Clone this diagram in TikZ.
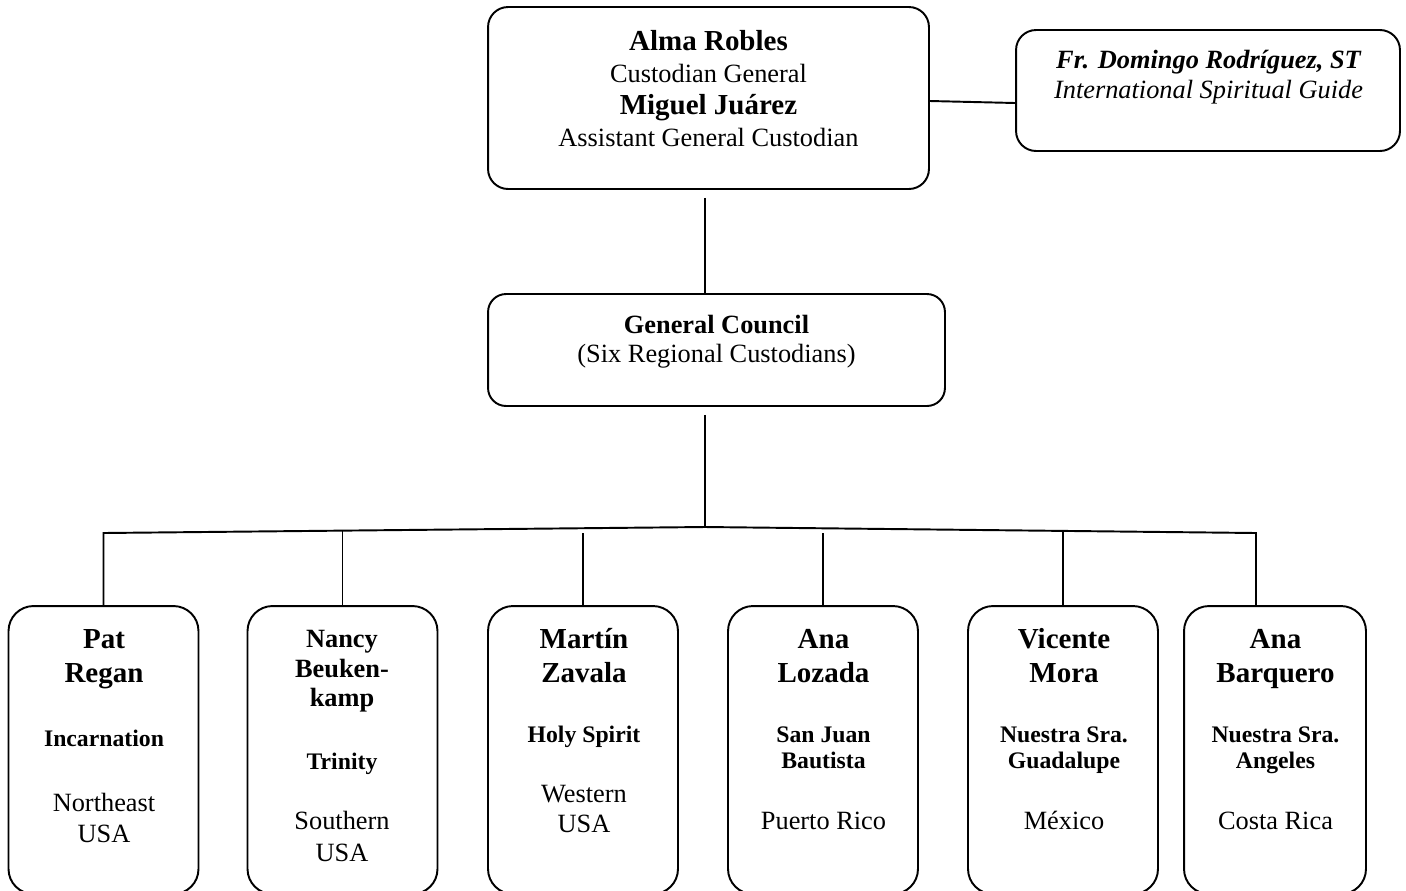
\documentclass[tikz,border=0pt]{standalone}
\usepackage{fontspec}
\setmainfont{Liberation Serif}
\usetikzlibrary{positioning}
\newcommand{\tstrut}{\rule{0pt}{13pt}}
\newcommand{\namefont}{\fontsize{16.5}{17}\selectfont\bfseries}
\newcommand{\parishfont}{\fontsize{13.5}{17}\selectfont\bfseries}

\begin{document}
\begin{tikzpicture}[x=0.02cm, y=-0.02cm,
  box/.style={draw, line width=1.1pt, rounded corners=0.4cm},
  unit/.style={draw, line width=1.1pt, rounded corners=0.5cm, minimum width=3.8cm, minimum height=5.76cm},
  txt/.style={anchor=north, inner sep=0pt, align=center},
  link/.style={line width=1.1pt}]
\useasboundingbox (0,0) rectangle (1406,890);
\clip (0,0) rectangle (1406,890);

% top level
\node [box, minimum width=8.82cm, minimum height=3.64cm] (custodian) at (708.5,98) {};
\node [txt, font=\fontsize{15}{18.3}\selectfont] (custodian-t) at (708.5,27)
  {\tstrut{\namefont Alma Robles}\\Custodian General\\{\namefont Miguel Juárez}\\Assistant General Custodian};
\node [box, minimum width=7.68cm, minimum height=2.42cm] (guide) at (1208,90.5) {};
\node [txt, font=\fontsize{15}{17}\selectfont\itshape] (guide-t) at (1208.5,45)
  {\tstrut{\bfseries Fr. Domingo Rodríguez, ST}\\International Spiritual Guide};
\node [box, minimum width=9.14cm, minimum height=2.24cm, rounded corners=0.36cm] (council) at (716.5,350) {};
\node [txt, font=\fontsize{15}{16.5}\selectfont] (council-t) at (716.5,310)
  {\tstrut{\bfseries General Council}\\(Six Regional Custodians)};

% regions
\node [unit] (unit1) at (103.5,750) {};
\node [unit] (unit2) at (342.5,750) {};
\node [unit] (unit3) at (583,750) {};
\node [unit] (unit4) at (823,750) {};
\node [unit] (unit5) at (1063,750) {};
\node [unit, minimum width=3.64cm] (unit6) at (1275,750) {};

\node [txt, font=\fontsize{15}{17}\selectfont] (unit1-t) at (104,625)
  {\tstrut{\namefont Pat}\\[2.8pt]{\namefont Regan}\\[19.3pt]{\parishfont Incarnation}\\[19.8pt]Northeast\\[0.6pt]USA};
\node [txt, font=\fontsize{15}{17}\selectfont] (unit2-t) at (342,624)
  {\tstrut{\bfseries Nancy}\\{\bfseries Beuken-}\\{\bfseries kamp}\\[18.7pt]{\parishfont Trinity}\\[17pt]Southern\\[1.1pt]USA};
\node [txt, font=\fontsize{15}{17}\selectfont] (unit3-t) at (584,625)
  {\tstrut{\namefont Martín}\\[2.8pt]{\namefont Zavala}\\[17pt]{\parishfont Holy Spirit}\\[17pt]Western\\USA};
\node [txt, font=\fontsize{15}{17}\selectfont] (unit4-t) at (823.5,625)
  {\tstrut{\namefont Ana}\\[2.8pt]{\namefont Lozada}\\[17pt]{\parishfont San Juan}\\[-2.3pt]{\parishfont Bautista}\\[17.6pt]Puerto Rico};
\node [txt, font=\fontsize{15}{17}\selectfont] (unit5-t) at (1064,625)
  {\tstrut{\namefont Vicente}\\[2.8pt]{\namefont Mora}\\[17pt]{\parishfont Nuestra Sra.}\\[-2.3pt]{\parishfont Guadalupe}\\[17.6pt]México};
\node [txt, font=\fontsize{15}{17}\selectfont] (unit6-t) at (1275.5,625)
  {\tstrut{\namefont Ana}\\[2.8pt]{\namefont Barquero}\\[17pt]{\parishfont Nuestra Sra.}\\[-2.3pt]{\parishfont Angeles}\\[17.6pt]Costa Rica};

% connectors
\coordinate (hub) at (705,527);
\coordinate (busend) at (1256,533);
\draw [link] (custodian.east |- 0,101) -- (guide.west |- 0,103);
\draw [link, shorten <=0.16cm] (custodian.south -| hub) -- (council.north -| hub);
\draw [link, shorten <=0.16cm] (council.south -| hub) -- (hub);
\draw [link] (unit1.north) -- (unit1.north |- busend) -- (hub) -- (busend) -- (busend |- unit6.north);
\draw [link] (unit2.north) -- (unit2.north |- 0,531);
\draw [link] (unit3.north) -- (unit3.north |- 0,533);
\draw [link] (unit4.north) -- (unit4.north |- 0,533);
\draw [link] (unit5.north) -- (unit5.north |- 0,531);
\end{tikzpicture}
\end{document}
